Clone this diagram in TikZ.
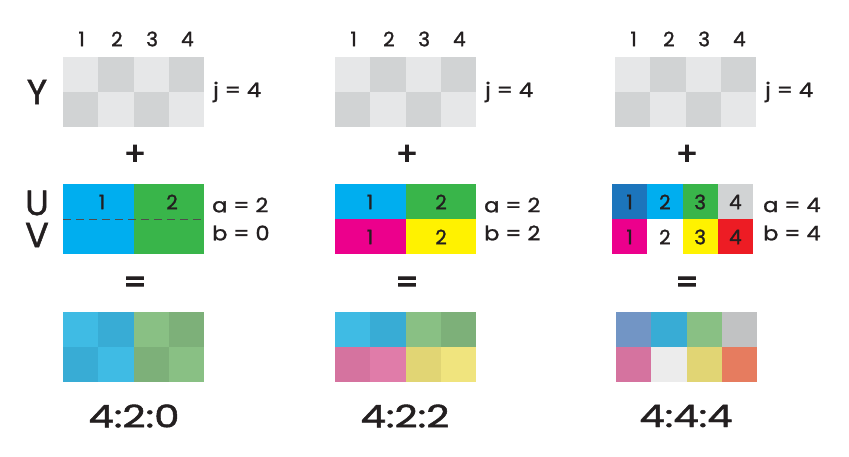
\documentclass[tikz,border=0pt]{standalone}
\usepackage{fontspec}
\setmainfont{Poppins}
\newfontfamily\gm{Poppins}[FakeBold=1.3]
\newfontfamily\gmb{Poppins}[FakeBold=3]
\definecolor{ylt}{HTML}{E6E7E8}
\definecolor{ydk}{HTML}{D1D3D4}
\definecolor{ccyan}{HTML}{00AEEF}
\definecolor{cgreen}{HTML}{39B54A}
\definecolor{cmag}{HTML}{EC008C}
\definecolor{cyel}{HTML}{FFF200}
\definecolor{cdblue}{HTML}{1C75BC}
\definecolor{cgray}{HTML}{D1D3D4}
\definecolor{cred}{HTML}{ED1C24}
\definecolor{ink}{HTML}{231F20}
\definecolor{rA}{HTML}{3FBBE4}
\definecolor{rB}{HTML}{38ACD5}
\definecolor{rC}{HTML}{89C084}
\definecolor{rD}{HTML}{7DB079}
\definecolor{rE}{HTML}{D5739F}
\definecolor{rF}{HTML}{E07CA9}
\definecolor{rG}{HTML}{E1D574}
\definecolor{rH}{HTML}{F0E47E}
\definecolor{rI}{HTML}{7295C5}
\definecolor{rJ}{HTML}{C1C2C3}
\definecolor{rK}{HTML}{ECECEC}
\definecolor{rL}{HTML}{E67C5F}
\newcommand\mygrid[4]{% x0, y0, cell height, colour list (8)
  \foreach \col [count=\k from 0] in {#4}{%
    \pgfmathtruncatemacro\cc{mod(\k,4)}%
    \pgfmathtruncatemacro\rr{floor(\k/4)}%
    \fill[\col] ({#1+\cc*35.25},{#2+\rr*#3}) rectangle ++(35.25,#3);}}
\newcommand\wide[1]{\scalebox{1.12}[1]{#1}}
\newcommand\widerr[1]{\scalebox{1.3}[1]{#1}}
\tikzset{
  txt/.style={text=ink, inner sep=0pt, font=\gm\fontsize{20}{20}\selectfont},
  big/.style={text=ink, inner sep=0pt, font=\gm\fontsize{35}{35}\selectfont},
  sym/.style={text=ink, inner sep=0pt, font=\gmb\fontsize{32}{32}\selectfont},
  res/.style={text=ink, inner sep=0pt, font=\gm\fontsize{31}{31}\selectfont},
  sidel/.style={txt, anchor=west},
}
\begin{document}
\begin{tikzpicture}[x=1pt,y=-1pt]
\useasboundingbox (0,0) rectangle (849,457);
\fill[white] (0,0) rectangle (849,457);
% Y grids
\foreach \x/\n in {63/a,335/b,615/c}{
  \mygrid{\x}{57}{35}{ylt,ydk,ylt,ydk,ydk,ylt,ydk,ylt}
  \foreach \c in {1,...,4}{
    \node[txt] (h\n\c) at ({\x+(\c-0.5)*35.25+1},39) {\c};}
  \node[sidel] (j\n) at ({\x+150},92) {\wide{j = 4}};
  \node[sym] (plus\n) at ({\x+72},155) {+};
  \node[sym] (eq\n) at ({\x+72},285) {=};
}
\node[big] (Y) at (37,92) {Y};
\node[big] (U) at (37,203) {U};
\node[big] (V) at (37,235) {V};
% UV grids
\fill[ccyan] (63,184) rectangle (133.5,254);
\fill[cgreen] (133.5,184) rectangle (204,254);
\draw[ink!80, line width=0.8pt, dash pattern=on 8pt off 5pt] (63,219) -- (204,219);
\node[txt] (ua1) at (102,202) {1};
\node[txt] (ua2) at (172,202) {2};
\fill[ccyan] (335,184) rectangle (405.5,219);
\fill[cgreen] (405.5,184) rectangle (476,219);
\fill[cmag] (335,219) rectangle (405.5,254);
\fill[cyel] (405.5,219) rectangle (476,254);
\node[txt] (ub1) at (370,202) {1};
\node[txt] (ub2) at (441,202) {2};
\node[txt] (vb1) at (370,237) {1};
\node[txt] (vb2) at (441,237) {2};
\mygrid{612}{184.5}{35}{cdblue,ccyan,cgreen,cgray,cmag,white,cyel,cred}
\foreach \c in {1,...,4}{
  \node[txt] (uc\c) at ({612+(\c-0.5)*35.25},202) {\c};
  \node[txt] (vc\c) at ({612+(\c-0.5)*35.25},237) {\c};}
\node[sidel] (aa) at (212,205) {\wide{a = 2}};
\node[sidel] (ba) at (212,233) {\wide{b = 0}};
\node[sidel] (ab) at (484,205) {\wide{a = 2}};
\node[sidel] (bb) at (484,233) {\wide{b = 2}};
\node[sidel] (ac) at (763,205) {\wide{a = 4}};
\node[sidel] (bc) at (763,233) {\wide{b = 4}};
% result grids
\mygrid{63}{312}{35}{rA,rB,rC,rD,rB,rA,rD,rC}
\mygrid{335}{312}{35}{rA,rB,rC,rD,rE,rF,rG,rH}
\mygrid{616}{312}{35}{rI,rB,rC,rJ,rE,rK,rG,rL}
\node[res] (ra) at (134,416) {\widerr{4:2:0}};
\node[res] (rb) at (405,416) {\widerr{4:2:2}};
\node[res] (rc) at (686,416) {\widerr{4:4:4}};
\end{tikzpicture}
\end{document}
